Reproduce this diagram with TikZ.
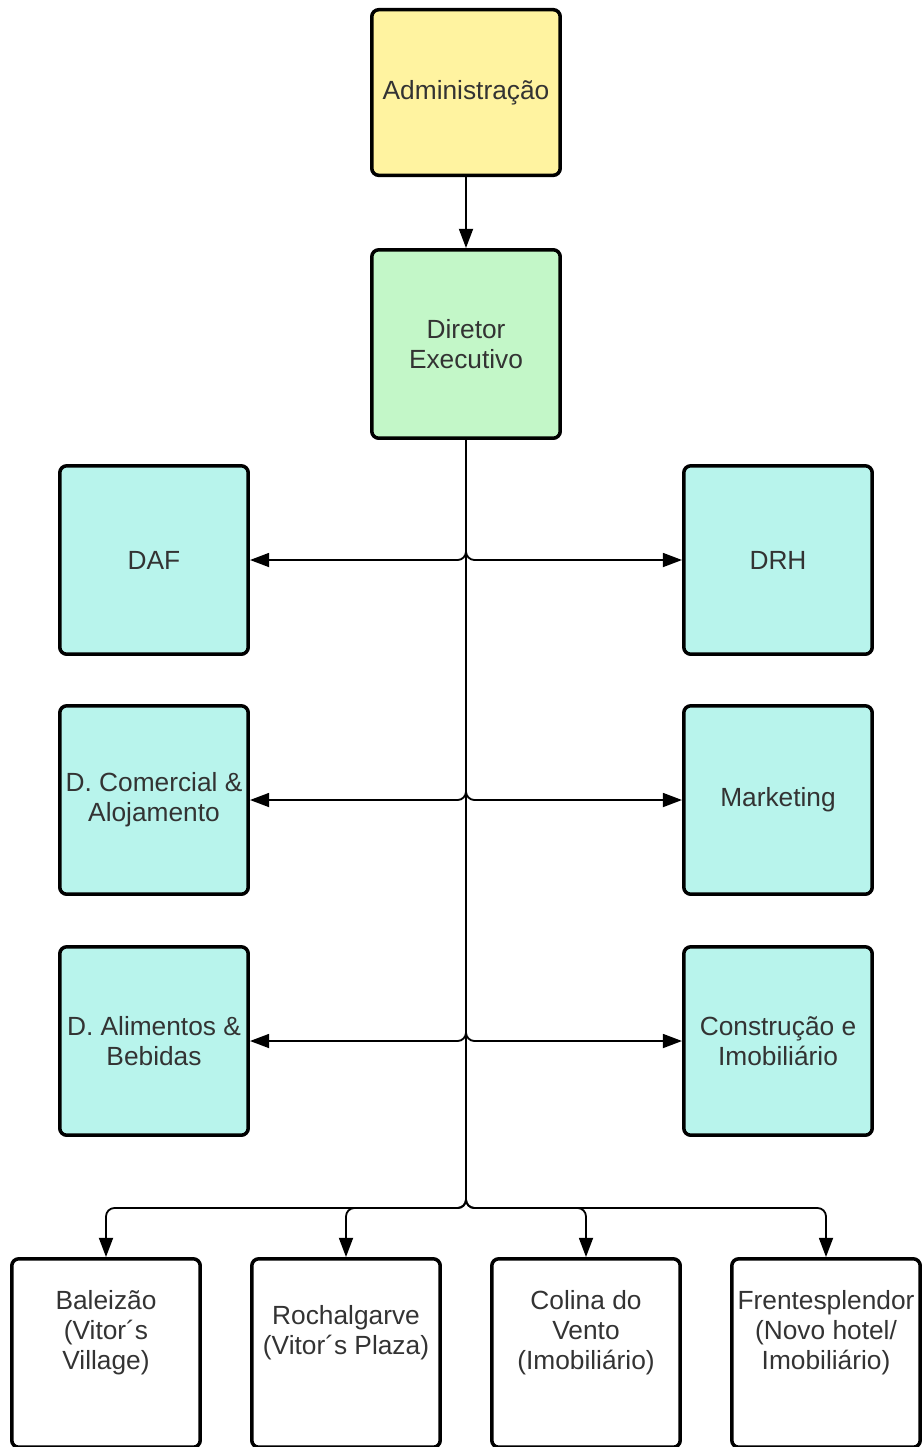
\documentclass[tikz,border=0pt]{standalone}
\usepackage{fontspec}
\setmainfont{Liberation Sans}
\usetikzlibrary{arrows.meta}
\definecolor{admfill}{RGB}{255,243,160}
\definecolor{dirfill}{RGB}{195,247,200}
\definecolor{depfill}{RGB}{184,244,236}
\definecolor{txtgray}{RGB}{51,51,51}

\begin{document}
\begin{tikzpicture}[x=0.025cm,y=-0.025cm,font=\fontsize{18.7}{21.3}\selectfont,
   box/.style={draw,line width=2.5pt,rounded corners=5pt,minimum width=4.71cm,
      minimum height=4.71cm,align=center,text=txtgray,inner sep=2pt},
   boxtxt/.style={align=center,text=txtgray,inner sep=0pt},
   link/.style={line width=1.3pt,rounded corners=6pt,-{Triangle[length=0.48cm,width=0.35cm]}}]
   \useasboundingbox (0,0) rectangle (922,1447);
% Top of the chart
   \node [box,fill=admfill,minimum height=4.14cm] (adm) at (466,92.5) {Administração};
   \node [box,fill=dirfill] (dir) at (466,344) {Diretor\\Executivo};
% Departments
   \node [box,fill=depfill] (daf) at (154,560)  {DAF};
   \node [box,fill=depfill] (drh) at (778,560)  {DRH};
   \node [box,fill=depfill] (com) at (154,800)  {D. Comercial \&\\Alojamento};
   \node [box,fill=depfill] (mkt) at (778,800)  {Marketing};
   \node [box,fill=depfill] (ali) at (154,1041) {D. Alimentos \&\\Bebidas};
   \node [box,fill=depfill] (con) at (778,1041) {Construção e\\Imobiliário};
% Units (boxes run past the bottom edge)
   \node [box] (bal) at (106,1353) {};
   \node [box] (roc) at (346,1353) {};
   \node [box] (col) at (586,1353) {};
   \node [box] (fre) at (826,1353) {};
   \node [boxtxt] (baltxt) at (106,1333) {Baleizão\\(Vitor´s\\Village)};
   \node [boxtxt] (roctxt) at (346,1333) {Rochalgarve\\(Vitor´s Plaza)};
   \node [boxtxt] (coltxt) at (586,1333) {Colina do\\Vento\\(Imobiliário)};
   \node [boxtxt] (fretxt) at (826,1333) {Frentesplendor\\(Novo hotel/\\Imobiliário)};
% Connectors
   \coordinate (split) at (466,1208);
   \draw [link] (adm) -- (dir);
   \foreach \u in {daf,com,ali}
      \draw [link] (dir.south) |- (\u.east);
   \foreach \u in {drh,mkt,con}
      \draw [link] (dir.south) |- (\u.west);
   \foreach \u in {bal,roc,col,fre}
      \draw [link] (dir.south) -- (split) -| (\u.north);
\end{tikzpicture}
\end{document}
